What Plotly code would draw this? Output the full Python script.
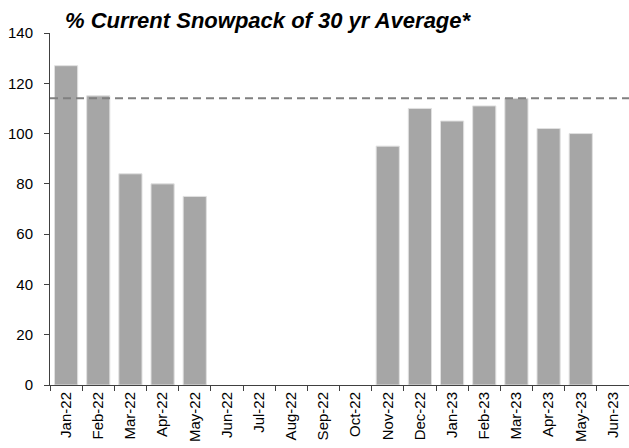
import plotly.graph_objects as go

months = ["Jan-22", "Feb-22", "Mar-22", "Apr-22", "May-22", "Jun-22", "Jul-22", "Aug-22",
          "Sep-22", "Oct-22", "Nov-22", "Dec-22", "Jan-23", "Feb-23", "Mar-23", "Apr-23",
          "May-23", "Jun-23"]
snowpack = [127, 115, 84, 80, 75, None, None, None, None, None, 95, 110, 105, 111, 114, 102, 100, None]
reference_level = 114
y_ticks = [0, 20, 40, 60, 80, 100, 120, 140]

fig = go.Figure()
fig.add_trace(go.Bar(
    x=months, y=snowpack,
    marker=dict(color="#A6A6A6", line=dict(color="#E0E0E0", width=1)),
    width=0.72,
    showlegend=False,
))
fig.add_shape(type="line", xref="paper", x0=0, x1=1, yref="y",
              y0=reference_level, y1=reference_level,
              line=dict(color="#808080", width=2, dash="8px,5px"))

fig.update_layout(
    width=629, height=448,
    margin=dict(l=50, r=0, t=33, b=63),
    paper_bgcolor="white", plot_bgcolor="white",
    font=dict(family="Liberation Sans, Arial", size=15, color="black"),
    title=dict(text="<b><i>% Current Snowpack of 30 yr Average*</i></b>",
               x=65/629, xanchor="left", y=1-20/448, yanchor="middle",
               font=dict(size=22, color="black")),
    bargap=0.28,
)
fig.update_xaxes(type="category", categoryorder="array", categoryarray=months,
                 tickangle=-90, showline=True, linecolor="#404040", linewidth=1,
                 ticks="outside", ticklen=5, tickcolor="#404040", tickson="boundaries",
                 showgrid=False, zeroline=False, automargin=False)
fig.update_yaxes(range=[0, 140], tickvals=y_ticks, showline=True, linecolor="#404040",
                 linewidth=1, ticks="outside", ticklen=5, tickcolor="#404040",
                 showgrid=False, zeroline=False, automargin=False, ticklabelstandoff=8)

fig.write_html("out.html", config={"displayModeBar": False},
               post_script="document.body.style.margin='0';document.body.style.padding='0';")
